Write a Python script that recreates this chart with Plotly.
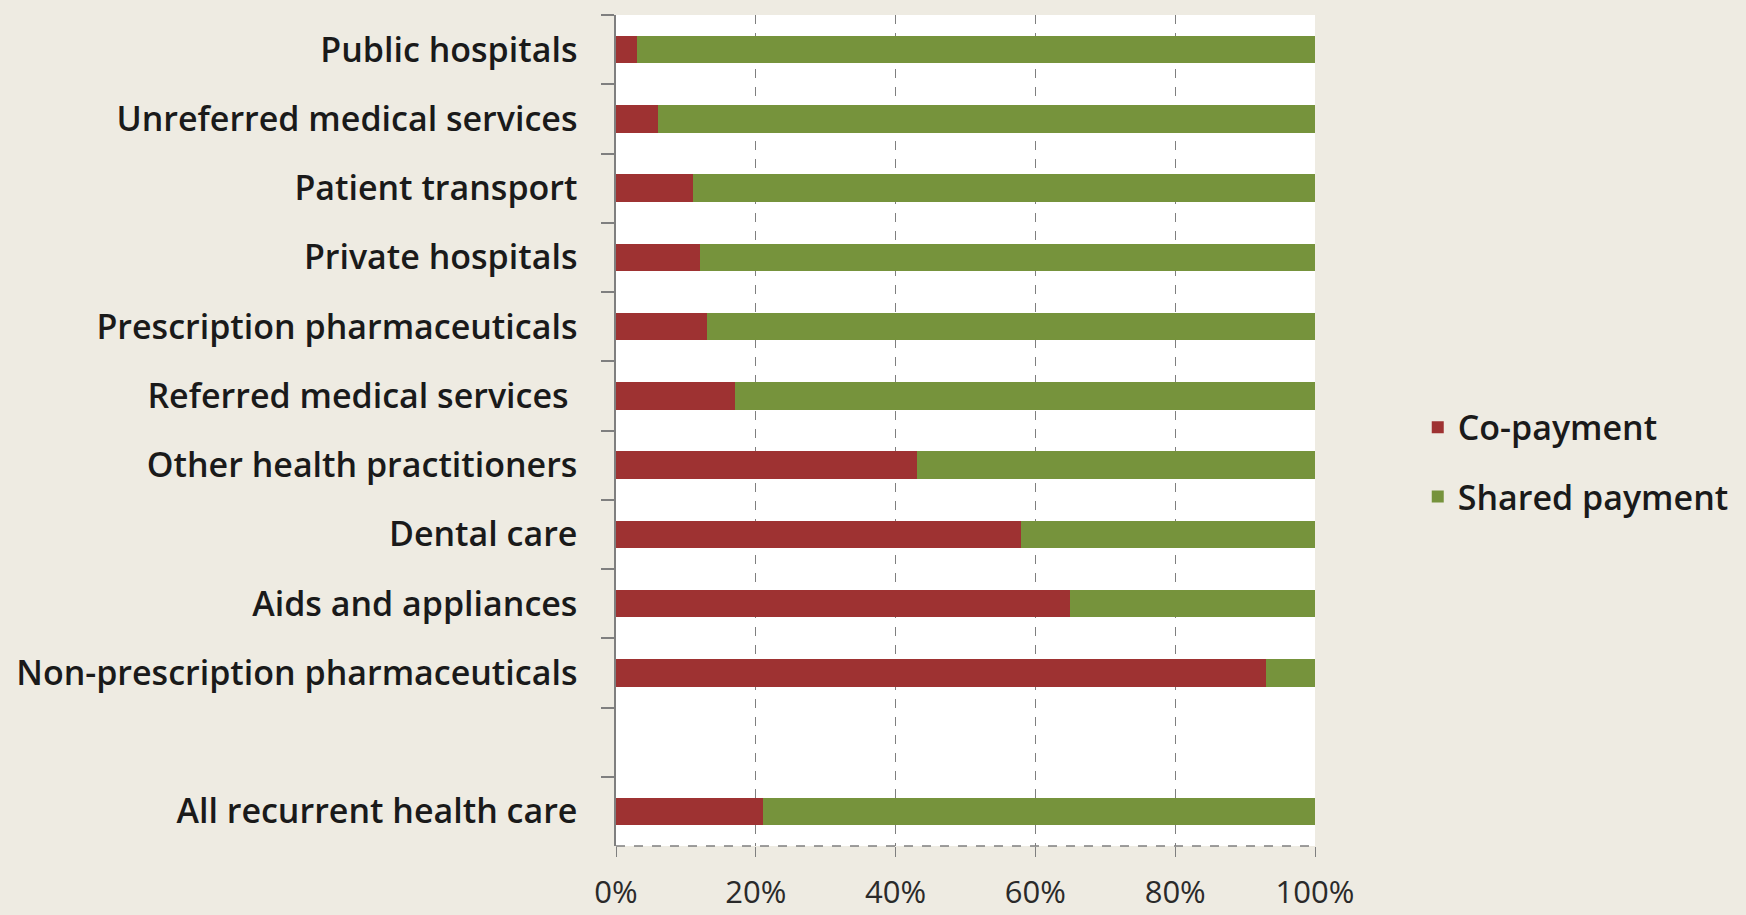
import plotly.graph_objects as go

categories = [
    "Public hospitals",
    "Unreferred medical services",
    "Patient transport",
    "Private hospitals",
    "Prescription pharmaceuticals",
    "Referred medical services ",
    "Other health practitioners",
    "Dental care",
    "Aids and appliances",
    "Non-prescription pharmaceuticals",
    "All recurrent health care",
]
axis_order = categories[:10] + ["\u200b"] + categories[10:]

co_payment = [3, 6, 11, 12, 13, 17, 43, 58, 65, 93, 21]
shared_payment = [97, 94, 89, 88, 87, 83, 57, 42, 35, 7, 79]

RED = "#9E3232"
GREEN = "#76933C"
BG = "#EEEBE2"
GRID = "#7F7F7F"
FONT = "Open Sans"
FS = 34

fig = go.Figure()
fig.add_trace(go.Bar(
    y=categories, x=[v / 100 for v in co_payment], orientation="h",
    name="Co-payment", legendgroup="a",
    marker=dict(color=RED, line=dict(width=0)),
))
fig.add_trace(go.Bar(
    y=categories, x=[v / 100 for v in shared_payment], orientation="h",
    name="Shared payment", legendgroup="b",
    marker=dict(color=GREEN, line=dict(width=0)),
))

fig.update_layout(
    barmode="stack",
    bargap=0.6,
    width=1746, height=915,
    margin=dict(l=616, r=431, t=15, b=69, autoexpand=False),
    paper_bgcolor=BG,
    plot_bgcolor="white",
    font=dict(family=FONT, size=FS, color="#1A1A1A", weight=600),
    showlegend=True,
    legend=dict(
        x=1.147, xanchor="left", y=0.462, yanchor="middle",
        bgcolor="rgba(0,0,0,0)", font=dict(size=FS, family=FONT, weight=600),
        traceorder="grouped", tracegroupgap=22, itemwidth=30,
    ),
    xaxis=dict(
        range=[0, 1], tickvals=[0, 0.2, 0.4, 0.6, 0.8, 1.0],
        tickformat=".0%", showgrid=True, gridcolor=GRID, griddash="dash",
        gridwidth=1.3, zeroline=False, showline=False,
        ticks="outside", ticklen=10, tickcolor=GRID, tickwidth=1.3,
        ticklabelstandoff=9, automargin=False,
        tickfont=dict(size=31, weight=400, color="#2A2A2A"),
    ),
    yaxis=dict(
        type="category", categoryorder="array", categoryarray=axis_order,
        autorange="reversed", showline=True, linecolor=GRID, linewidth=1.5,
        ticks="outside", tickson="boundaries", ticklen=13, tickcolor=GRID,
        tickwidth=1.5, showgrid=False, ticklabelstandoff=30, automargin=False,
    ),
)

# dashed horizontal axis line at the bottom of the plot area
fig.add_shape(type="line", xref="x domain", yref="y domain",
              x0=0, x1=1, y0=0, y1=0,
              line=dict(color=GRID, width=1.3, dash="dash"))

fig.write_html("out.html")
